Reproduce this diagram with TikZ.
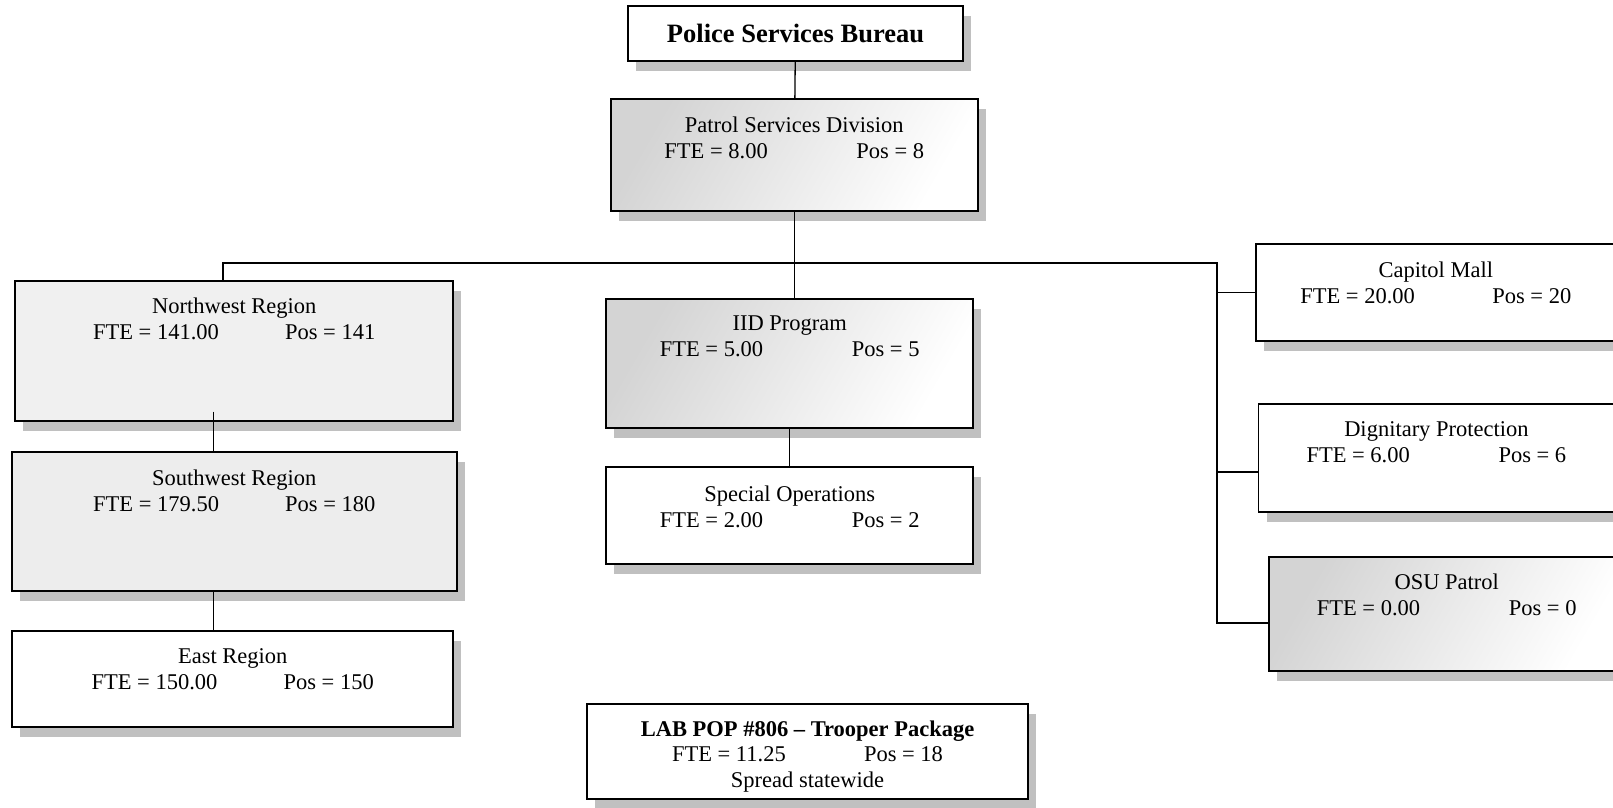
\documentclass[tikz,border=0pt]{standalone}
\usepackage{fontspec}
\setmainfont{Liberation Serif}
\usetikzlibrary{positioning,shadows}

\definecolor{shadowgray}{HTML}{C0C0C0}
\definecolor{flatgray}{HTML}{F0F0F0}
\definecolor{shadegray}{HTML}{D4D4D4}

\newcommand{\ftepos}[2]{\makebox[192pt][l]{FTE = #1}Pos = #2}

\begin{document}
\begin{tikzpicture}[x=1pt,y=-1pt,
        unit/.style={draw, line width=1.8pt, inner sep=0pt,
            drop shadow={shadow xshift=8pt, shadow yshift=-10pt, fill=shadowgray, opacity=1}},
        plain/.style={unit, fill=white},
        flat/.style={unit, fill=flatgray},
        shaded/.style={unit, left color=shadegray, right color=white, shading angle=60},
        txt/.style={font=\fontsize{22.5}{26}\selectfont, align=center, inner sep=0pt},
        link/.style={line width=1.3pt}]
    \useasboundingbox (0,0) rectangle (1613,807);
    \clip (0,0) rectangle (1613,807);

    % top of the tree
    \node[plain, minimum width=335.6pt, minimum height=55pt,
          font=\bfseries\fontsize{26.5}{30}\selectfont] (bureau) at (795.5,33.5) {Police Services Bureau};
    \node[shaded, minimum width=366.7pt, minimum height=112pt] (patrol) at (794.3,155) {};
    \node[txt, below=18.3pt of patrol.north] (patrol-t) {Patrol Services Division\\\ftepos{8.00}{8}};

    % regions
    \node[flat, minimum width=438.3pt, minimum height=140pt] (northwest) at (234.2,350.7) {};
    \node[txt, below=18.3pt of northwest.north] (northwest-t) {Northwest Region\\\ftepos{141.00}{141}};
    \node[flat, fill=black!7, minimum width=444.7pt, minimum height=138.4pt] (southwest) at (234.3,521.5) {};
    \node[txt, below=18.3pt of southwest.north] (southwest-t) {Southwest Region\\\ftepos{179.50}{180}};
    \node[plain, minimum width=441.3pt, minimum height=96.3pt] (east) at (232.7,679.2) {};
    \node[txt, below=18.3pt of east.north] (east-t) {East Region\\\ftepos{150.00}{150}};

    % middle column
    \node[shaded, minimum width=367.3pt, minimum height=128.4pt] (iid) at (789.7,363.5) {};
    \node[txt, below=17pt of iid.north] (iid-t) {IID Program\\\ftepos{5.00}{5}};
    \node[plain, minimum width=367.3pt, minimum height=96.7pt] (specops) at (789.7,515.7) {};
    \node[txt, below=19pt of specops.north] (specops-t) {Special Operations\\\ftepos{2.00}{2}};

    % right column
    \node[plain, minimum width=360.3pt, minimum height=96.7pt] (capitol) at (1435.8,292.7) {};
    \node[txt, below=18.3pt of capitol.north] (capitol-t) {Capitol Mall\\\ftepos{20.00}{20}};
    \node[plain, minimum width=355.7pt, minimum height=107.7pt] (dignitary) at (1436.4,457.9) {};
    \node[txt, below=18pt of dignitary.north] (dignitary-t) {Dignitary Protection\\\ftepos{6.00}{6}};
    \node[shaded, minimum width=354.7pt, minimum height=113.4pt] (osu) at (1446.7,614) {};
    \node[txt, below=17.5pt of osu.north] (osu-t) {OSU Patrol\\\ftepos{0.00}{0}};

    % package note
    \node[plain, minimum width=440.4pt, minimum height=95pt] (lab) at (807.5,751.8) {};
    \node[txt, font=\fontsize{22.5}{25.5}\selectfont, below=17pt of lab.north] (lab-t)
        {\textbf{LAB POP \#806 – Trooper Package}\\\ftepos{11.25}{18}\\Spread statewide};

    % connectors
    \coordinate (busL) at (223,263);
    \coordinate (busR) at (1217,263);
    \coordinate (nw-stub) at ([xshift=-21pt,yshift=10pt]northwest.south);
    \coordinate (dignitary-in) at ([yshift=-14pt]dignitary.west);
    \coordinate (osu-in) at ([yshift=-9pt]osu.west);

    \draw[link] (bureau) -- (patrol);
    \draw[link] (patrol.south) -- (patrol.south |- iid.north);
    \draw[link] (northwest.north -| busL) -- (busL) -- (busR) -- (busR |- osu-in) -- (osu-in);
    \draw[link] (busR |- capitol.west) -- (capitol.west);
    \draw[link] (busR |- dignitary-in) -- (dignitary-in);
    \draw[link] (nw-stub) -- (nw-stub |- southwest.north);
    \draw[link] (southwest.south -| nw-stub) -- (east.north -| nw-stub);
    \draw[link] (iid) -- (specops);
\end{tikzpicture}
\end{document}
